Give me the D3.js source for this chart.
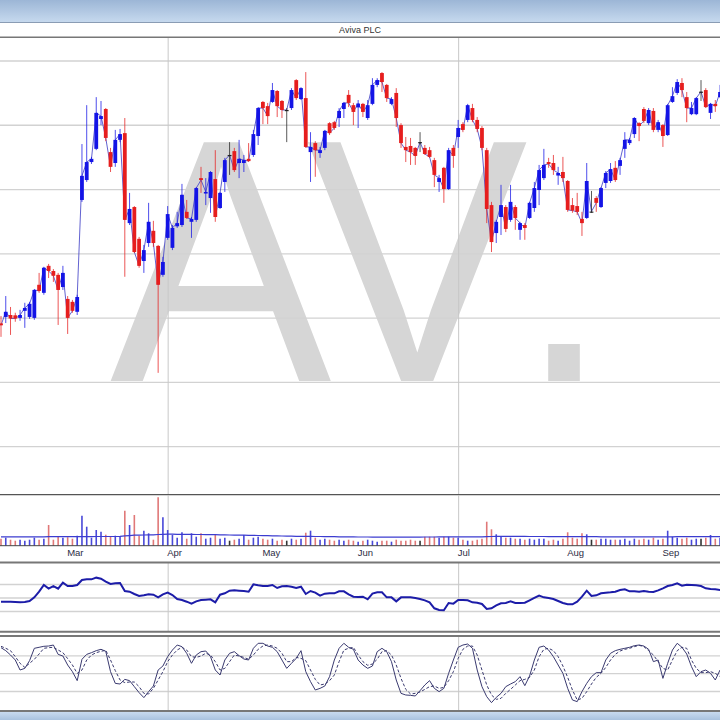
<!DOCTYPE html>
<html><head><meta charset="utf-8">
<script src="https://cdn.jsdelivr.net/npm/d3@7"></script>
<style>
body{margin:0;background:#fff;overflow:hidden}
text{font-family:"Liberation Sans",Arial,Helvetica,sans-serif}
</style>
</head><body>
<svg id="c" width="720" height="720"></svg>
<script>
// ---------- data ----------
const title = "Aviva PLC";
const watermark = "AV.";
const monthLabels = ["Mar","Apr","May","Jun","Jul","Aug","Sep"];
const monthStart = [14,35,55,75,96,119,139];
const quarterStart = [35,96];
const priceTicks = [240,260,280,300,320,340,360];
const rsiTicks = [30,50,70];
const stochTicks = [25,50,75];

const open = [278.2,280.2,280.8,280.7,279.9,282.1,280.2,279.9,290.2,287.7,
296.1,294.5,293.3,289.5,285.8,284.9,281.8,316.6,322.8,328.4,
332.5,341.8,344.9,331.5,328.1,335.3,337.4,309.4,314.4,304.5,
297.6,303.2,307.0,302.3,293.3,304.8,301.7,308.4,308.8,312.9,
309.8,310.4,323.4,318.6,317.2,323.1,314.1,322.2,330.6,331.8,
328.1,328.1,329.4,330.6,336.5,347.1,345.8,347.1,350.5,347.4,
344.6,345.2,353.9,348.0,348.3,331.5,334.3,331.2,332.8,340.5,
340.8,342.1,344.9,349.3,346.1,345.4,346.5,342.1,346.5,352.4,
356.1,352.4,346.5,349.9,339.9,333.1,333.4,332.8,334.6,332.8,
332.1,329.0,322.2,326.6,320.0,332.8,336.2,340.2,341.5,345.2,
341.5,339.0,332.1,315.0,306.3,311.3,314.4,310.4,314.4,307.3,
308.8,311.0,314.1,319.7,323.4,328.4,328.1,324.2,325.3,322.5,
315.0,314.7,310.7,311.0,313.0,317.2,314.4,321.9,322.5,326.6,
327.2,332.5,334.3,337.1,340.5,344.9,340.5,344.3,338.4,339.9,
336.8,347.1,349.9,353.0,348.6,343.3,343.3,350.3,350.8,343.7,
346.5,348.6];
const high = [280.5,286.7,283.3,281.5,282.4,284.6,284.9,288.9,293.9,295.8,
296.7,295.1,293.9,296.1,286.7,285.5,287.1,334.0,346.1,330.0,
348.6,347.4,345.2,332.8,338.4,338.7,342.1,318.8,314.7,305.1,
302.6,315.7,310.1,302.6,298.9,314.7,308.8,312.9,321.6,316.6,
311.3,320.6,326.9,323.4,325.6,332.1,319.1,329.7,334.6,332.8,
335.3,330.6,334.3,338.4,345.5,347.4,346.8,353.0,350.8,347.7,
345.2,351.4,354.2,351.7,356.4,337.7,334.9,333.1,338.4,340.8,
341.2,345.2,347.1,350.8,346.8,347.7,346.8,347.7,354.5,354.5,
356.4,352.7,348.6,351.4,340.5,336.2,335.9,333.1,337.7,333.7,
333.1,329.7,324.4,326.9,332.8,333.7,341.5,340.8,346.5,346.5,
342.4,339.6,332.8,316.0,310.4,321.3,315.0,321.3,315.0,309.8,
309.4,316.0,322.2,327.5,332.5,329.7,330.6,326.9,330.0,322.8,
317.2,318.8,312.9,328.1,319.4,317.8,320.6,325.6,328.1,328.7,
329.7,337.7,335.9,342.4,340.8,345.5,345.2,345.2,341.5,340.2,
346.5,351.7,354.2,354.5,350.2,347.1,348.6,353.9,351.4,346.8,
347.7,352.4];
const low = [274.0,278.3,274.6,278.7,279.0,276.8,279.6,279.3,287.7,287.1,
292.3,291.1,277.7,288.6,274.9,281.5,280.8,316.0,322.2,327.8,
332.1,339.9,334.9,325.3,326.9,334.6,292.7,308.8,300.1,295.5,
293.9,302.0,302.0,262.8,292.7,304.2,301.0,307.9,308.2,310.7,
304.8,309.8,318.8,315.0,312.6,309.8,313.8,319.1,324.4,325.3,
323.4,325.3,328.4,330.0,333.7,340.2,340.2,346.8,342.4,342.1,
334.6,344.6,347.7,347.7,332.8,322.2,323.8,329.7,332.1,336.8,
338.4,339.3,342.1,345.5,339.9,339.0,342.4,341.5,346.1,351.7,
350.2,347.1,346.1,339.3,332.8,328.4,327.5,327.5,331.5,330.6,
329.7,320.6,319.1,315.7,319.7,326.6,332.8,337.7,340.8,340.8,
337.7,332.1,309.4,300.4,303.2,305.7,306.6,309.8,307.3,304.2,
304.2,310.7,312.9,315.0,322.8,326.6,324.4,321.3,322.2,312.9,
312.6,311.9,305.4,310.7,312.6,312.9,314.1,320.3,321.9,322.2,
324.4,329.7,333.7,335.9,334.9,340.5,339.9,337.7,337.7,333.1,
336.5,346.8,349.3,348.6,340.8,343.0,343.0,347.4,345.2,341.8,
344.0,348.3];
const close = [277.6,281.8,279.7,279.7,280.8,283.0,284.3,288.6,288.3,295.5,
294.5,293.0,288.6,293.9,279.9,282.1,286.4,324.1,328.4,329.4,
343.7,342.7,335.9,326.9,335.3,337.1,310.4,313.8,300.4,296.1,
301.0,309.8,303.2,290.2,297.3,312.2,307.9,309.4,318.2,311.0,
310.7,320.3,322.8,319.1,325.3,311.3,318.8,329.0,330.6,325.9,
329.4,329.0,328.7,337.1,345.2,345.2,342.7,350.8,345.8,344.6,
344.6,350.8,348.3,351.4,333.1,333.1,332.1,332.1,338.1,337.4,
339.0,344.3,346.8,346.8,344.0,346.6,344.0,346.1,352.4,353.9,
353.3,348.3,348.0,342.1,334.3,332.1,331.5,330.3,334.6,330.9,
330.0,324.4,323.4,320.0,332.1,330.3,339.0,338.4,346.1,341.5,
338.7,332.8,313.8,303.5,309.8,315.0,307.6,316.0,311.0,309.4,
307.9,315.7,320.3,325.9,327.5,327.8,325.9,325.0,323.4,313.5,
313.3,312.9,309.4,322.5,313.0,315.7,320.3,325.0,326.2,322.8,
329.0,335.3,335.3,342.1,339.6,341.2,344.6,338.4,340.8,336.5,
346.1,348.9,353.3,350.8,345.2,345.2,348.3,350.3,345.5,346.5,
345.8,350.2];
const volume = [7,8,6,5,6,5,6,8,6,7,
20.7,6,9,8,8.5,7,10,30,19,8,
15.7,14,11,9,10,9,35,20.7,30.7,10,
15,12.4,6,48.4,28.4,15.7,10.7,8,13.4,7,
12.4,9,12.4,7,8,10.7,7,8,5,6,
7,10.7,6,8,9,7,6,7,5,6,
5,7,6,7,13,15,8,6,7,6,
5,6,5,6,5,4,5,6,5,4,
5,5,4,6,5,5,6,5,5,9,
9,9,8,9,9,8,8,6,5,5,
6,7,24,16.4,11.4,9,8,8,7,7,
6,7,6,7,7,5,6,5,7,13.4,
8,7,12.4,11.4,6,6,7,7,6,6,
6,7,5,7,6,7,6,8,6,7,
15,9,8,7,8,6,7,7,8,10.7,
7,8];
const volumeAvg = [8.8,8.8,8.8,8.9,8.9,8.9,8.9,8.9,8.9,8.9,
9.0,9.0,9.0,9.0,9.0,9.0,9.0,9.1,9.1,9.1,
9.2,9.2,9.2,9.2,9.2,9.3,9.8,10.1,10.5,10.6,
10.7,10.8,10.8,11.2,11.4,11.5,11.5,11.4,11.4,11.3,
11.3,11.2,11.2,11.1,11.0,11.0,10.9,10.8,10.7,10.6,
10.6,10.5,10.4,10.3,10.2,10.1,10.0,9.9,9.8,9.7,
9.6,9.5,9.4,9.3,9.3,9.3,9.2,9.2,9.1,9.0,
9.0,8.9,8.9,8.8,8.8,8.7,8.7,8.7,8.6,8.6,
8.6,8.6,8.6,8.6,8.6,8.6,8.6,8.6,8.6,8.7,
8.7,8.7,8.8,8.8,8.8,8.8,8.8,8.8,8.8,8.8,
8.8,8.8,9.0,9.2,9.3,9.3,9.3,9.3,9.3,9.3,
9.3,9.2,9.2,9.2,9.2,9.1,9.1,9.1,9.0,9.0,
9.0,9.0,9.0,9.0,9.0,9.0,8.9,8.9,8.9,8.9,
8.9,8.9,8.9,8.9,8.9,8.9,8.9,8.9,8.9,8.9,
8.9,8.9,9.0,9.0,9.0,9.0,9.0,9.0,9.0,9.0,
9.0,9.0];
const rsi = [43.8,43.8,43.8,43.3,42.8,43.3,44.8,50.2,58.6,68.5,
63.1,67.0,63.1,72.0,67.0,67.0,68.5,75.9,76.9,76.9,
79.4,77.9,73.5,70.0,71.0,71.5,59.6,58.6,55.2,52.2,
53.2,54.7,54.2,50.2,54.7,57.2,53.7,47.8,46.3,43.8,
40.9,44.3,46.3,46.8,47.3,42.8,54.2,56.2,60.1,60.6,
60.1,59.6,58.6,69.5,68.0,67.0,67.0,68.5,64.1,66.5,
67.0,66.0,64.1,66.0,55.2,59.6,57.2,52.7,55.7,56.2,
56.2,59.1,59.1,54.7,51.2,50.7,51.2,47.3,55.7,57.7,
57.7,50.2,50.2,44.3,50.2,50.2,50.2,49.3,47.8,45.8,
42.8,34.0,31.5,31.0,41.9,40.9,46.3,46.3,45.8,42.8,
42.3,40.4,33.0,34.0,38.4,41.4,41.9,44.3,41.9,41.9,
42.3,45.8,49.3,52.7,50.2,49.3,47.8,44.8,41.9,39.9,
39.9,43.8,51.2,60.1,52.2,53.2,56.2,57.2,57.7,58.6,
61.1,62.1,59.1,59.1,58.6,59.6,58.6,58.1,60.6,63.6,
67.0,68.5,71.0,67.5,69.0,68.5,68.0,67.0,63.6,62.6,
62.1,61.1];
const stochK = [85.7,81.5,75.4,68.4,54.4,56.7,67.5,84.8,86.2,87.6,
88.0,89.4,76.3,74.0,61.4,52.1,39.5,69.4,76.3,78.7,
81.5,83.4,80.6,52.1,35.7,34.8,41.3,39.5,31.1,22.7,
15.7,24.1,32.0,54.4,60.0,73.1,82.4,89.4,87.1,77.8,
63.8,75.4,80.1,81.0,73.1,54.4,47.4,68.4,77.8,80.1,
74.5,69.8,68.4,84.8,91.8,91.8,88.0,86.2,80.1,68.4,
56.7,63.8,70.7,81.5,52.1,38.1,26.4,28.7,32.0,45.1,
68.4,84.8,91.8,86.2,83.4,68.4,61.4,56.7,60.0,80.1,
84.8,80.1,66.1,40.4,21.7,19.4,18.9,18.0,25.5,33.4,
39.5,28.7,24.1,28.7,49.7,68.4,86.2,89.4,90.8,84.8,
54.4,31.1,17.1,8.7,16.1,21.7,31.1,34.8,38.1,45.1,
32.5,46.0,68.4,86.2,88.0,82.4,73.1,61.4,49.7,28.7,
12.4,10.1,24.1,35.7,45.1,50.7,50.7,68.4,77.8,81.5,
83.4,84.8,86.2,88.5,89.4,88.0,83.4,66.1,68.4,42.7,
63.8,82.4,91.8,86.2,76.8,59.1,45.1,52.1,54.4,49.7,
40.4,54.4];
const stochD = [87.6,84.8,81.5,73.1,63.8,58.1,63.8,69.4,76.8,84.8,
85.7,86.2,82.4,78.7,70.3,61.4,49.7,54.4,68.4,75.4,
78.7,80.6,82.0,68.4,53.5,40.4,36.7,37.6,37.6,31.1,
21.7,20.8,28.7,40.4,52.1,66.1,75.4,82.4,86.2,82.4,
73.1,72.1,74.0,77.8,75.4,66.1,54.4,56.7,66.1,75.4,
74.0,72.1,69.4,75.4,83.4,88.0,89.4,88.0,84.8,77.8,
66.1,66.1,72.1,70.7,67.5,54.4,41.3,33.4,34.8,39.5,
47.4,66.1,82.4,84.8,86.2,75.4,66.1,61.0,62.8,69.4,
80.1,81.5,75.4,61.4,42.7,27.3,20.8,21.7,23.6,27.3,
31.1,32.0,28.7,30.1,39.5,52.1,70.7,83.4,88.0,88.0,
75.4,54.4,33.4,19.4,13.3,14.7,21.7,27.3,33.4,39.5,
41.3,44.1,54.4,73.1,83.4,84.8,81.5,73.1,60.0,44.1,
26.4,12.4,14.7,24.1,34.8,44.1,49.7,58.1,68.4,76.3,
81.0,83.4,84.8,87.1,89.0,87.1,81.5,75.4,66.1,56.7,
54.4,68.4,81.5,86.2,84.8,68.4,56.7,50.7,50.7,52.1,
49.7,45.1];

// ---------- layout ----------
const W = 720;
const P = {
  main:{top:38, bottom:494},
  vol:{top:495, bottom:545.7},
  rsi:{top:563.75, bottom:631.25},
  sto:{top:637.45, bottom:708.85}
};
const BLUE = "#1414e6", RED = "#e61e1e", DOJI = "#222";
const idx = d3.range(close.length);

const svg = d3.select("#c");

const defs = svg.append("defs");
const g1 = defs.append("linearGradient").attr("id","topg").attr("x1",0).attr("y1",0).attr("x2",0).attr("y2",1);
g1.append("stop").attr("offset","0%").attr("stop-color","#9cb6d6");
g1.append("stop").attr("offset","100%").attr("stop-color","#c6d9ee");
const g2 = defs.append("linearGradient").attr("id","botg").attr("x1",0).attr("y1",0).attr("x2",0).attr("y2",1);
g2.append("stop").attr("offset","0%").attr("stop-color","#c8daef");
g2.append("stop").attr("offset","100%").attr("stop-color","#a9c2df");

svg.append("rect").attr("x",0).attr("y",0).attr("width",W).attr("height",720).attr("fill","#fff");
svg.append("rect").attr("x",0).attr("y",0).attr("width",W).attr("height",22).attr("fill","url(#topg)");
svg.append("line").attr("x1",0).attr("x2",W).attr("y1",22.5).attr("y2",22.5).attr("stroke","#8a9cb4");
svg.append("text").attr("x",360).attr("y",33).attr("text-anchor","middle")
  .attr("font-size",9).attr("fill","#333").text(title);
svg.append("line").attr("x1",0).attr("x2",W).attr("y1",37.2).attr("y2",37.2).attr("stroke","#777").attr("stroke-width",1.6);

// scales
const x = d3.scaleLinear().domain([0, close.length-1]).range([1, 1 + (close.length-1)*4.762]);
const yP = d3.scaleLinear().domain([225.1, 367.0]).range([P.main.bottom, P.main.top]);
const yV = d3.scaleLinear().domain([0, 50.7]).range([P.vol.bottom, P.vol.top]);
const yR = d3.scaleLinear().domain([0, 100]).range([P.rsi.bottom, P.rsi.top]);
const yS = d3.scaleLinear().domain([0, 100]).range([P.sto.bottom, P.sto.top]);

// watermark "AV." as a single text (per-glyph offsets, no font kerning)
svg.append("text").attr("transform","translate(0,381) scale(1,1.045)")
  .attr("x",110).attr("y",0).attr("dx","0 -25 -10")
  .attr("font-size",332).attr("fill","#d6d6d6")
  .style("font-kerning","none")
  .attr("font-family","'Liberation Sans',Arial,sans-serif")
  .text(watermark);

function hgrid(scale, ticks){
  const g = svg.append("g").call(d3.axisLeft(scale).tickValues(ticks).tickSize(-W).tickFormat(""));
  g.select(".domain").remove();
  g.selectAll("line").attr("stroke","#d2d2d2").attr("stroke-width",1.3);
}
function vgrid(top, bottom){
  const g = svg.append("g").attr("transform",`translate(0,${top})`)
    .call(d3.axisBottom(x).tickValues(quarterStart).tickSize(bottom-top).tickFormat(""));
  g.select(".domain").remove();
  g.selectAll("line").attr("stroke","#c8c8c8").attr("stroke-width",1);
}
hgrid(yP, priceTicks);
vgrid(P.main.top, P.main.bottom);

// close line
svg.append("path").datum(idx)
  .attr("d", d3.line().x(i=>x(i)).y(i=>yP(close[i])))
  .attr("fill","none").attr("stroke","#4646c8").attr("stroke-width",1).attr("opacity",0.85);

function col(i){ return close[i] > open[i] ? BLUE : (close[i] < open[i] ? RED : DOJI); }
const cg = svg.append("g");
cg.selectAll("line.w").data(idx).join("line").attr("class","w")
  .attr("x1",i=>x(i)).attr("x2",i=>x(i))
  .attr("y1",i=>yP(high[i])).attr("y2",i=>yP(low[i]))
  .attr("stroke",i=>col(i)).attr("stroke-width",1).attr("opacity",0.75);
const bw = 3.8;
cg.selectAll("rect.b").data(idx).join("rect").attr("class","b")
  .attr("x",i=>x(i)-bw/2).attr("width",bw)
  .attr("y",i=>Math.min(yP(open[i]),yP(close[i])))
  .attr("height",i=>Math.max(1.2, Math.abs(yP(open[i])-yP(close[i]))))
  .attr("fill",i=>col(i));

svg.append("line").attr("x1",0).attr("x2",W).attr("y1",494.6).attr("y2",494.6).attr("stroke","#555").attr("stroke-width",1.4);

// volume panel
vgrid(P.vol.top, P.vol.bottom);
const vcol = i => close[i] > open[i] ? "#4848d8" : (close[i] < open[i] ? "#e07878" : "#333");
svg.append("g").selectAll("line").data(idx).join("line")
  .attr("x1",i=>x(i)).attr("x2",i=>x(i))
  .attr("y1",yV(0)).attr("y2",i=>yV(volume[i]))
  .attr("stroke",i=>vcol(i)).attr("stroke-width",1.6);
svg.append("path").datum(idx)
  .attr("d", d3.line().x(i=>x(i)).y(i=>yV(volumeAvg[i])))
  .attr("fill","none").attr("stroke","#3c3cd0").attr("stroke-width",1.2);
svg.append("line").attr("x1",0).attr("x2",W).attr("y1",P.vol.bottom).attr("y2",P.vol.bottom).attr("stroke","#444").attr("stroke-width",1);

// month axis
const ax = svg.append("g").attr("transform",`translate(0,${P.vol.bottom})`)
  .call(d3.axisBottom(x).tickValues(monthStart).tickFormat((d,k)=>monthLabels[k]).tickSize(0).tickPadding(4));
ax.select(".domain").remove();
ax.selectAll("text").attr("text-anchor","start").attr("dx",-1).attr("font-size",9.5)
  .attr("fill","#2c2c44").attr("font-family","'Liberation Sans',Arial,sans-serif");

// RSI panel
hgrid(yR, rsiTicks);
vgrid(562.5, 631.5);
svg.append("path").datum(idx)
  .attr("d", d3.line().x(i=>x(i)).y(i=>yR(rsi[i])))
  .attr("fill","none").attr("stroke","#1c1ca8").attr("stroke-width",2);
svg.append("line").attr("x1",0).attr("x2",W).attr("y1",562.5).attr("y2",562.5).attr("stroke","#777").attr("stroke-width",2);
svg.append("line").attr("x1",0).attr("x2",W).attr("y1",631.8).attr("y2",631.8).attr("stroke","#777").attr("stroke-width",2);

// Stochastic panel
hgrid(yS, stochTicks);
vgrid(636, 711);
svg.append("path").datum(idx)
  .attr("d", d3.line().x(i=>x(i)).y(i=>yS(stochD[i])))
  .attr("fill","none").attr("stroke","#3a3a70").attr("stroke-width",1).attr("stroke-dasharray","3,2");
svg.append("path").datum(idx)
  .attr("d", d3.line().x(i=>x(i)).y(i=>yS(stochK[i])))
  .attr("fill","none").attr("stroke","#3a3a70").attr("stroke-width",1);
svg.append("line").attr("x1",0).attr("x2",W).attr("y1",636).attr("y2",636).attr("stroke","#777").attr("stroke-width",2);
svg.append("line").attr("x1",0).attr("x2",W).attr("y1",711).attr("y2",711).attr("stroke","#777").attr("stroke-width",2);

svg.append("rect").attr("x",0).attr("y",712).attr("width",W).attr("height",8).attr("fill","url(#botg)");
</script>
</body></html>
